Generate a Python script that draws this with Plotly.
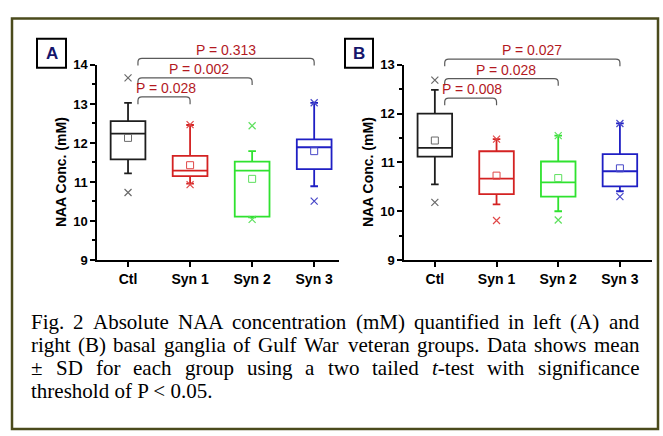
import plotly.graph_objects as go

W_FIG, H_FIG = 663, 436

categories = ["Ctl", "Syn 1", "Syn 2", "Syn 3"]

# Panel A (left basal ganglia)
a_q1 = [11.58, 11.15, 10.11, 11.33]
a_median = [12.24, 11.29, 11.29, 11.89]
a_q3 = [12.56, 11.67, 11.52, 12.09]
a_low = [11.22, 10.96, 10.09, 10.89]
a_high = [13.03, 12.46, 11.79, 13.03]
a_mean = [12.13, 11.43, 11.08, 11.79]
a_min = [10.73, 10.93, 10.04, 10.51]
a_max = [13.67, 12.47, 12.44, 13.03]
a_pvals = ["P = 0.028", "P = 0.002", "P = 0.313"]
a_bracket_y = [13.18, 13.67, 14.17]

# Panel B (right basal ganglia)
b_q1 = [11.12, 10.35, 10.30, 10.51]
b_median = [11.30, 10.67, 10.59, 10.82]
b_q3 = [12.00, 11.23, 11.02, 11.17]
b_low = [10.55, 10.14, 10.00, 10.41]
b_high = [12.49, 11.48, 11.55, 11.80]
b_mean = [11.45, 10.73, 10.68, 10.88]
b_min = [10.18, 9.81, 9.82, 10.30]
b_max = [12.69, 11.48, 11.55, 11.80]
b_pvals = ["P = 0.008", "P = 0.028", "P = 0.027"]
b_bracket_y = [12.32, 12.72, 13.12]

caption_lines = [
    "Fig. 2 Absolute NAA concentration (mM) quantified in left (A) and",
    "right (B) basal ganglia of Gulf War veteran groups. Data shows mean",
    "\u00b1 SD for each group using a two tailed <i>t</i>-test with significance",
    "threshold of P < 0.05.",
]

box_colors = ["#1e1e1e", "#d42222", "#2fe22f", "#1f1fc4"]
mark_colors = ["#6a6a6a", "#e04848", "#5ee05e", "#4848c8"]
P_COLOR = "#b3191f"
BR_COLOR = "#5a5a5a"

# layout geometry (pixels)
PANELS = {
    "A": dict(x0=97, x1=339, xr=[-0.5, 3.4], yr=[9, 14], xa="x", ya="y"),
    "B": dict(x0=404, x1=652, xr=[-0.5, 3.52], yr=[9, 13], xa="x2", ya="y2"),
}
Y_TOP, Y_BOT = 60, 262


def px_to_paper(px, py):
    return px / W_FIG, 1 - py / H_FIG


def data_to_px(panel, xv, yv):
    p = PANELS[panel]
    px = p["x0"] + (xv - p["xr"][0]) / (p["xr"][1] - p["xr"][0]) * (p["x1"] - p["x0"])
    py = Y_BOT - (yv - p["yr"][0]) / (p["yr"][1] - p["yr"][0]) * (Y_BOT - Y_TOP)
    return px, py


fig = go.Figure()
shapes = []
annotations = []

panel_data = {
    "A": (a_q1, a_median, a_q3, a_low, a_high, a_mean, a_min, a_max, a_pvals, a_bracket_y),
    "B": (b_q1, b_median, b_q3, b_low, b_high, b_mean, b_min, b_max, b_pvals, b_bracket_y),
}

for pname, (q1, med, q3, lo, hi, mn, vmin, vmax, pv, bry) in panel_data.items():
    p = PANELS[pname]
    for i in range(4):
        fig.add_trace(go.Box(
            x=[i], q1=[q1[i]], median=[med[i]], q3=[q3[i]],
            lowerfence=[lo[i]], upperfence=[hi[i]],
            width=0.56, whiskerwidth=0.22,
            line=dict(color=box_colors[i], width=1.8),
            fillcolor="rgba(0,0,0,0)", boxpoints=False,
            xaxis=p["xa"], yaxis=p["ya"], showlegend=False, hoverinfo="skip",
        ))
        fig.add_trace(go.Scatter(
            x=[i], y=[mn[i]], mode="markers",
            marker=dict(symbol="square-open", size=7, color=mark_colors[i],
                        line=dict(width=1, color=mark_colors[i])),
            xaxis=p["xa"], yaxis=p["ya"], showlegend=False, hoverinfo="skip",
        ))
        fig.add_trace(go.Scatter(
            x=[i, i], y=[vmin[i], vmax[i]], mode="markers",
            marker=dict(symbol="x-thin-open", size=7, color=mark_colors[i],
                        line=dict(width=1.2, color=mark_colors[i])),
            xaxis=p["xa"], yaxis=p["ya"], showlegend=False, hoverinfo="skip",
            cliponaxis=False,
        ))
    # brackets
    text_dx = [0.03, 0.07, 0.0]
    for k in range(3):
        xs, xe = 0.16, k + 1.0
        ytop = bry[k]
        pxs, pyt = data_to_px(pname, xs, ytop)
        pxe, _ = data_to_px(pname, xe, ytop)
        pyb = pyt + 7.5
        r = 4.0
        pts = [
            (pxs, pyb), (pxs, pyt + r), (pxs, pyt), (pxs + r, pyt),
            (pxe - r, pyt), (pxe, pyt), (pxe, pyt + r), (pxe, pyb),
        ]
        pp = [px_to_paper(a, b) for a, b in pts]
        path = (f"M {pp[0][0]},{pp[0][1]} L {pp[1][0]},{pp[1][1]} "
                f"Q {pp[2][0]},{pp[2][1]} {pp[3][0]},{pp[3][1]} "
                f"L {pp[4][0]},{pp[4][1]} "
                f"Q {pp[5][0]},{pp[5][1]} {pp[6][0]},{pp[6][1]} "
                f"L {pp[7][0]},{pp[7][1]}")
        shapes.append(dict(type="path", path=path, xref="paper", yref="paper",
                           line=dict(color=BR_COLOR, width=1.2)))
        tx, _ = data_to_px(pname, (xs + xe) / 2 + text_dx[k], ytop)
        ax_, ay_ = px_to_paper(tx, pyt - 9)
        annotations.append(dict(text=pv[k], x=ax_, y=ay_, xref="paper", yref="paper",
                                showarrow=False, xanchor="center", yanchor="middle",
                                font=dict(family="Arial, Liberation Sans", size=14, color=P_COLOR)))

# axes
common_x = dict(showgrid=False, zeroline=False, showline=True, linecolor="black", linewidth=1.5,
                ticks="outside", ticklen=5, tickwidth=1.5, tickcolor="black",
                tickvals=[0, 1, 2, 3], ticktext=[f"<b>{c}</b>" for c in categories],
                tickfont=dict(family="Arial, Liberation Sans", size=14, color="black"))
common_y = dict(showgrid=False, zeroline=False, showline=True, linecolor="black", linewidth=1.5,
                ticks="outside", ticklen=5, tickwidth=1.5, tickcolor="black",
                tickfont=dict(family="Arial, Liberation Sans", size=13, color="black"),
                minor=dict(ticks="outside", ticklen=3, tickwidth=1.5, tickcolor="black", dtick=0.5))

ydom = [1 - Y_BOT / H_FIG, 1 - Y_TOP / H_FIG]
fig.update_layout(
    xaxis=dict(domain=[PANELS["A"]["x0"] / W_FIG, PANELS["A"]["x1"] / W_FIG],
               range=PANELS["A"]["xr"], anchor="y", **common_x),
    yaxis=dict(domain=ydom, range=PANELS["A"]["yr"], anchor="x",
               tickvals=[9, 10, 11, 12, 13, 14], ticktext=[f"<b>{v}</b>" for v in [9, 10, 11, 12, 13, 14]],
               **common_y),
    xaxis2=dict(domain=[PANELS["B"]["x0"] / W_FIG, PANELS["B"]["x1"] / W_FIG],
                range=PANELS["B"]["xr"], anchor="y2", **common_x),
    yaxis2=dict(domain=ydom, range=PANELS["B"]["yr"], anchor="x2",
                tickvals=[9, 10, 11, 12, 13], ticktext=[f"<b>{v}</b>" for v in [9, 10, 11, 12, 13]],
                **common_y),
)

# axis titles
for cx in (61, 368):
    ax_, ay_ = px_to_paper(cx, 171)
    annotations.append(dict(text="<b>NAA Conc. (mM)</b>", x=ax_, y=ay_, xref="paper", yref="paper",
                            showarrow=False, textangle=-90, xanchor="center", yanchor="middle",
                            font=dict(family="Arial, Liberation Sans", size=14, color="black")))

# panel labels
for lab, (bx0, bx1) in (("A", (37, 66)), ("B", (345, 373))):
    p0 = px_to_paper(bx0, 33)
    p1 = px_to_paper(bx1, 63)
    shapes.append(dict(type="rect", xref="paper", yref="paper", x0=p0[0], y0=p0[1], x1=p1[0], y1=p1[1],
                       line=dict(color="black", width=2)))
    c = px_to_paper((bx0 + bx1) / 2, 48)
    annotations.append(dict(text=f"<b>{lab}</b>", x=c[0], y=c[1], xref="paper", yref="paper",
                            showarrow=False, xanchor="center", yanchor="middle",
                            font=dict(family="Arial, Liberation Sans", size=17, color="#15156b")))

# outer frame
f0 = px_to_paper(12, 12)
f1 = px_to_paper(658, 437)
shapes.append(dict(type="rect", xref="paper", yref="paper", x0=f0[0], y0=f0[1], x1=f1[0], y1=f1[1],
                   line=dict(color="#4b4b1c", width=2.5)))

# caption (justified, Times-metric widths)
CW = dict(zip("abcdefghijklmnopqrstuvwxyz",
              [444, 500, 444, 500, 444, 333, 500, 500, 278, 278, 500, 278, 778, 500, 500, 500, 500,
               333, 389, 278, 500, 500, 722, 500, 500, 444]))
CW.update(dict(zip("ABCDEFGHIJKLMNOPQRSTUVWXYZ",
                   [722, 667, 667, 722, 611, 556, 722, 722, 333, 389, 722, 611, 889, 722, 722, 556,
                    722, 667, 556, 611, 722, 722, 944, 722, 722, 611])))
CW.update({c: 500 for c in "0123456789"})
CW.update({" ": 250, ".": 250, ",": 250, "(": 333, ")": 333, "-": 333, "<": 564, "\u00b1": 564})

CAP_SIZE = 21
CAP_X0, CAP_X1 = 31, 639
CAP_Y = [326, 350, 374, 398]


def tw(s):
    s = s.replace("<i>", "").replace("</i>", "")
    return sum(CW.get(ch, 500) for ch in s) / 1000 * CAP_SIZE


cap_font = dict(family="Liberation Serif, Times New Roman, serif", size=CAP_SIZE, color="black")
for li, line in enumerate(caption_lines):
    yy = 1 - CAP_Y[li] / H_FIG
    if li < len(caption_lines) - 1:
        words = line.split(" ")
        widths = [tw(w) for w in words]
        gap = (CAP_X1 - CAP_X0 - sum(widths)) / (len(words) - 1)
        xcur = CAP_X0
        for w, wd in zip(words, widths):
            annotations.append(dict(text=w, x=xcur / W_FIG, y=yy, xref="paper", yref="paper",
                                    showarrow=False, xanchor="left", yanchor="middle",
                                    borderpad=0, borderwidth=0, font=cap_font))
            xcur += wd + gap
    else:
        annotations.append(dict(text=line.replace("<", "&lt;"), x=CAP_X0 / W_FIG, y=yy, xref="paper", yref="paper",
                                showarrow=False, xanchor="left", yanchor="middle",
                                borderpad=0, borderwidth=0, font=cap_font))

fig.update_layout(
    width=W_FIG, height=H_FIG, margin=dict(l=0, r=0, t=0, b=0),
    paper_bgcolor="white", plot_bgcolor="white",
    shapes=shapes, annotations=annotations, showlegend=False,
    boxgap=0, boxgroupgap=0,
)

fig.write_html("out.html", config={"displayModeBar": False},
               post_script="document.body.style.margin='0';document.body.style.overflow='hidden';")
